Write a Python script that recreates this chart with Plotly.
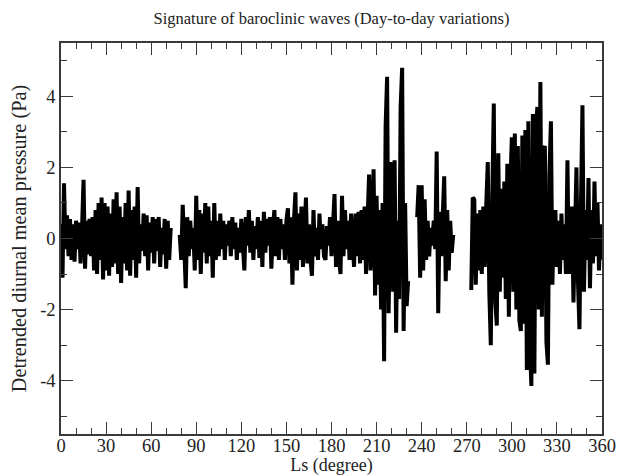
import numpy as np
import plotly.graph_objects as go

# Segment start Ls (degree), 1-degree spacing
seg1_start = 0
seg1 = [0.4, -1.1, 1.55, -0.3, 0.65, -0.5, 0.55, -0.6, 0.4, -0.65,
        0.5, -0.3, 0.45, -0.7, 0.3, 1.65, -0.85, 0.5, -0.45, 0.55,
        -0.5, 0.6, -0.9, 0.8, -1.0, 1.0, -0.6, 1.15, -1.15, 1.0,
        -0.9, 0.9, -1.05, 0.7, -0.8, 1.1, -0.7, 1.3, -1.0, 0.9,
        -1.25, 0.6, -0.7, 1.0, -0.9, 1.35, -1.05, 0.8, -0.6, 0.9,
        -1.1, 1.45, -0.7, 0.4, -0.35, 0.7, -0.5, 0.65, -0.9, 0.45,
        -0.4, 0.6, -0.7, 0.55, -0.35, 0.6, -0.8, 0.3, -0.45, 0.55,
        -0.85, 0.5, -0.6, 0.3]

seg2_start = 79
seg2 = [0.1, -0.6, 0.95, -0.4, -1.4, 0.6, -0.5, 0.5, -0.3, 0.3,
        -0.9, 1.2, -0.6, 0.8, -1.0, 0.7, -0.4, 1.0, -0.7, 0.9,
        -0.5, 0.5, -1.1, 1.0, -0.6, 0.5, -0.5, 0.7, -0.3, 0.5,
        -0.6, 0.4, -0.2, 0.5, -0.5, 0.6, -0.3, 0.45, -0.6, 0.3,
        -0.4, 0.55, -0.5, -0.9, 0.6, -0.2, 0.8, -0.4, 0.5, -0.6,
        0.35, -0.3, 0.6, -0.55, 0.5, -0.8, 0.75, -0.4, 0.55, -0.2,
        0.6, -0.85, 0.3, 0.8, -0.5, 0.6, -0.6, 0.55, -0.3, 0.4,
        -0.6, 0.5, 0.85, -0.7, 0.6, -1.3, 0.5, 1.3, -0.9, 0.7,
        -0.6, 0.9, -0.8, 0.6, 1.15, -0.7, 0.4, -0.6, -1.05, 0.8,
        -0.5, 0.3, -0.6, 0.7, -0.3, 0.4, -0.5, -0.6, 0.35, -0.2,
        0.6, -0.5, 0.5, 1.25, -0.8, 0.5, -0.6, -1.0, 1.2, -0.5,
        0.8, -0.3, 0.5, -0.6, 0.7, -0.4, -0.8, 0.7, -0.5, 0.75,
        -0.7, 0.8, -0.6, 0.9, -1.0, 0.5, 1.8, -0.9, 1.0, 1.95,
        -1.6, 1.2, -1.3, 0.8, -2.0, 1.0, -3.45, 3.15, 4.55, -2.1,
        0.6, 2.15, -1.5, 2.2, -2.65, 0.5, -1.7, 3.7, 4.8, -2.6,
        1.0, -1.9, -1.2]

seg3_start = 237
seg3 = [0.6, 1.5, -1.1, 1.5, -0.9, 1.1, -0.6, 0.5, -0.5, 0.3,
        -0.2, 0.5, -0.3, 2.45, -2.1, 0.75, -0.5, 0.4, 1.75, -1.2,
        0.8, -0.9, 0.5, -0.4, 0.1]

seg4_start = 273
seg4 = [-1.45, 1.15, 1.1, -1.3, 0.7, -0.9, 0.8, -1.0, 0.9, -0.8,
        1.0, 2.15, -1.5, -3.0, 1.2, 3.8, -1.8, -2.45, 2.4, -1.5,
        1.4, -1.1, 1.6, -1.7, 2.1, -2.2, 1.5, 2.85, -1.5, 2.95,
        -2.0, 2.6, -2.3, -2.6, 2.9, -2.4, 3.05, -3.7, 3.3, -3.0,
        -4.15, 3.5, -3.8, 3.1, 3.7, -2.0, 4.4, -2.2, 2.5, 2.6,
        -2.9, -3.55, 1.8, 3.3, -1.3, 0.6, 0.8, -0.8, 0.5, -1.0,
        0.7, -0.6, 0.4, -1.0, 2.2, -1.0, 0.6, 0.9, -1.8, 0.5,
        2.0, -1.2, -2.55, 1.0, 3.75, -1.5, 0.8, -0.6, 1.7, -1.4,
        0.8, -0.7, 1.6, -0.5, 1.0, -0.9, 0.4, -0.6]

x_ticks = [0, 30, 60, 90, 120, 150, 180, 210, 240, 270, 300, 330, 360]
y_ticks = [-4, -2, 0, 2, 4]
y_tick_labels = ["-4", "-2", "0", "2", "4"]

xs, ys = [], []
for start, vals in [(seg1_start, seg1), (seg2_start, seg2), (seg3_start, seg3), (seg4_start, seg4)]:
    xs.extend(list(np.arange(len(vals)) + start))
    ys.extend(vals)
    xs.append(None)
    ys.append(None)

fig = go.Figure()
fig.add_trace(go.Scatter(x=xs, y=ys, mode="lines",
                         line=dict(color="black", width=4),
                         connectgaps=False, showlegend=False))

font = "Liberation Serif, Times New Roman, serif"
axis_common = dict(showgrid=False, zeroline=False, showline=True, linecolor="#3a3a3a",
                   linewidth=1.5, mirror="allticks", ticks="inside", ticklen=12.5,
                   tickwidth=1.3, tickcolor="#3a3a3a", automargin=False,
                   tickfont=dict(family=font, size=18.5, color="#222"))
minor_common = dict(ticks="inside", ticklen=6.5, tickcolor="#3a3a3a", tickwidth=1.3)

fig.update_layout(
    width=620, height=468,
    margin=dict(l=53, r=26, t=35, b=42),
    paper_bgcolor="white", plot_bgcolor="white",
    title=dict(text="Signature of baroclinic waves (Day-to-day variations)",
               x=0.5, xref="paper", y=0.9786, yanchor="middle",
               font=dict(family=font, size=16.5, color="#222")),
    xaxis=dict(range=[0, 360], tickvals=x_ticks, ticklabelstandoff=-6,
               minor=dict(dtick=10, **minor_common),
               title=dict(text="Ls (degree)", font=dict(family=font, size=18, color="#222"), standoff=4),
               **axis_common),
    yaxis=dict(range=[-5.5, 5.5], tickvals=y_ticks, ticktext=y_tick_labels,
               minor=dict(dtick=1, **minor_common),
               title=dict(text="Detrended diurnal mean pressure (Pa)", font=dict(family=font, size=20.3, color="#222"), standoff=8),
               **axis_common),
)

fig.write_html("out.html")
